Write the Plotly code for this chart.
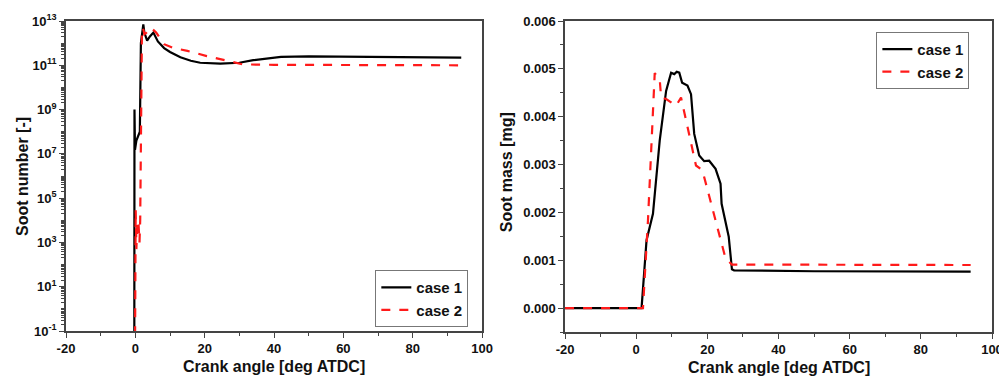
import plotly.graph_objects as go

# ---- Left panel: soot number (log scale) ----
num_c1_x = [-0.3, -0.25, -0.1, 0.3, 0.8, 1.3, 1.6, 2.0, 2.3, 2.6, 3.4, 4.2, 5.2, 6.5, 8.3, 10, 13, 16, 18.7,
            24.5, 30, 34, 38, 42, 50, 61, 80, 94]
num_c1_y = [1e-2, 1e9, 1.5e7, 4e7, 6e7, 1e8, 1e12, 5e12, 7e12, 3e12, 1.3e12, 2e12, 3e12, 1.2e12, 6e11, 4e11,
            2.3e11, 1.6e11, 1.3e11, 1.2e11, 1.3e11, 1.7e11, 2.1e11, 2.4e11, 2.5e11, 2.4e11, 2.3e11, 2.2e11]

num_c2_x = [-0.1, -0.05, 0.0, 0.1, 0.3, 0.6, 0.9, 1.2, 1.4, 1.6, 1.9, 2.2, 2.6, 3.2, 4.5, 6, 8.3, 11, 15,
            20.6, 26.4, 31, 40, 60, 94]
num_c2_y = [1e-2, 1e2, 1e3, 3e4, 5e2, 1e4, 8e3, 1e3, 1e4, 1e9, 3e12, 5e12, 2.5e12, 3e12, 5e12, 3e12, 9e11,
            6e11, 4.5e11, 2.6e11, 1.6e11, 1.1e11, 1.05e11, 1.05e11, 1e11]

# ---- Right panel: soot mass [mg] ----
mass_c1_x = [-20, 1.5, 2.9, 4.7, 6.6, 8.4, 9.8, 10.7, 11.4, 12.1, 12.9, 14.4, 15.4, 16.3, 17.7, 19.1, 20.5,
             22.3, 23.7, 24.0, 26.0, 26.9, 27.5, 50, 94]
mass_c1_y = [0.0, 0.0, 0.00142, 0.00197, 0.0035, 0.00454, 0.00492, 0.00489, 0.00494, 0.00492, 0.00471,
             0.00465, 0.00447, 0.00364, 0.00319, 0.00307, 0.00308, 0.00291, 0.0026, 0.00218, 0.00149,
             0.00081, 0.00079, 0.00077, 0.00076]

mass_c2_x = [-20, 1.9, 3.3, 4.7, 5.2, 6.6, 7.0, 8.4, 11.2, 12.6, 14.9, 16.8, 18.6, 25.1, 26.9, 94]
mass_c2_y = [0.0, 0.0, 0.00183, 0.00419, 0.00491, 0.00478, 0.0044, 0.00437, 0.00423, 0.0044, 0.00364,
             0.00298, 0.00288, 0.00104, 0.00091, 0.0009]

series_names = ["case 1", "case 2"]
x_tickvals = [-20, 0, 20, 40, 60, 80, 100]
x_ticktext = ["-20", "0", "20", "40", "60", "80", "100"]
log_tickvals = [1e-1, 1e1, 1e3, 1e5, 1e7, 1e9, 1e11, 1e13]
log_ticktext = ["10<sup>-1</sup>", "10<sup>1</sup>", "10<sup>3</sup>", "10<sup>5</sup>",
                "10<sup>7</sup>", "10<sup>9</sup>", "10<sup>11</sup>", "10<sup>13</sup>"]
x_title = "Crank angle [deg ATDC]"
left_y_title = "Soot number [-]"
right_y_title = "Soot mass [mg]"

FONT = "Liberation Sans, Arial, sans-serif"
AX = "#444444"
TXT = "#111111"

fig = go.Figure()
fig.add_trace(go.Scatter(x=num_c1_x, y=num_c1_y, mode="lines", name="<b>%s</b>" % series_names[0],
                         line=dict(color="black", width=2.2), xaxis="x", yaxis="y", legend="legend"))
fig.add_trace(go.Scatter(x=num_c2_x, y=num_c2_y, mode="lines", name="<b>%s</b>" % series_names[1],
                         line=dict(color="#ff1a1a", width=2.2, dash="dash"), xaxis="x", yaxis="y", legend="legend"))
fig.add_trace(go.Scatter(x=mass_c1_x, y=mass_c1_y, mode="lines", name="<b>%s</b>" % series_names[0],
                         line=dict(color="black", width=2.2), xaxis="x2", yaxis="y2", legend="legend2"))
fig.add_trace(go.Scatter(x=mass_c2_x, y=mass_c2_y, mode="lines", name="<b>%s</b>" % series_names[1],
                         line=dict(color="#ff1a1a", width=2.2, dash="dash"), xaxis="x2", yaxis="y2", legend="legend2"))

# the page body has an 8px default margin, so the figure is drawn 8px in from the window corner
OFF = 8
W, H = 1007 - OFF, 380 - OFF
ml, mr, mt, mb = 66 - OFF, 4, 20 - OFF, 48
pw = W - ml - mr
ph = H - mt - mb

def py(p):
    """window pixel row -> paper y"""
    return (H - mb - (p - OFF)) / ph

def px(p):
    """window pixel column -> paper x"""
    return ((p - OFF) - ml) / pw

tickfont = dict(family=FONT, size=13, color=TXT, weight="bold")

common_x = dict(range=[-20, 100], tickmode="array", tickvals=x_tickvals, ticktext=x_ticktext,
                showline=True, linecolor=AX, linewidth=1.5,
                mirror=True, ticks="outside", ticklen=5, tickwidth=1.2, tickcolor=AX,
                minor=dict(tickmode="linear", tick0=-20, dtick=10, ticks="outside", ticklen=3, tickcolor=AX),
                showgrid=False, zeroline=False, tickfont=tickfont)

minor_log = []
for k in range(-1, 13):
    for m in range(1, 10):
        minor_log.append(m * 10.0 ** k)

layout = dict(
    width=W, height=H, margin=dict(l=ml, r=mr, t=mt, b=mb),
    paper_bgcolor="white", plot_bgcolor="white",
    font=dict(family=FONT, color=TXT),
    xaxis=dict(common_x, domain=[0, px(487)], anchor="y"),
    xaxis2=dict(common_x, domain=[px(571), 1.0], anchor="y2"),
    yaxis=dict(type="log", range=[-1, 13], tickmode="array",
               tickvals=log_tickvals, ticktext=log_ticktext,
               domain=[py(331), 1.0], anchor="x",
               showline=True, linecolor=AX, linewidth=1.5, mirror=True,
               ticks="outside", ticklen=5, tickwidth=1.2, tickcolor=AX,
               minor=dict(tickmode="array", tickvals=minor_log, ticks="outside", ticklen=3, tickcolor=AX),
               showgrid=False, zeroline=False, tickfont=tickfont),
    yaxis2=dict(range=[-0.0005, 0.006], dtick=0.001, tick0=0, tickformat=".3f",
                domain=[0, 1.0], anchor="x2",
                showline=True, linecolor=AX, linewidth=1.5, mirror=True,
                ticks="outside", ticklen=5, tickwidth=1.2, tickcolor=AX,
                minor=dict(dtick=0.0005, ticks="outside", ticklen=3, tickcolor=AX),
                showgrid=False, zeroline=False, tickfont=tickfont),
    legend=dict(x=px(379), y=py(270), xanchor="left", yanchor="top",
                bgcolor="white", bordercolor="#777", borderwidth=1,
                font=dict(family=FONT, size=15, color=TXT),
                tracegroupgap=0, traceorder="normal"),
    legend2=dict(x=px(886), y=py(31), xanchor="left", yanchor="top",
                 bgcolor="white", bordercolor="#777", borderwidth=1,
                 font=dict(family=FONT, size=15, color=TXT),
                 tracegroupgap=0, traceorder="normal"),
    showlegend=True,
    annotations=[
        dict(text="<b>%s</b>" % x_title, xref="paper", yref="paper", x=(px(66) + px(487)) / 2, y=py(367),
             xanchor="center", yanchor="middle", showarrow=False, font=dict(family=FONT, size=16, color=TXT)),
        dict(text="<b>%s</b>" % x_title, xref="paper", yref="paper", x=(px(571) + px(1003)) / 2, y=py(368),
             xanchor="center", yanchor="middle", showarrow=False, font=dict(family=FONT, size=16, color=TXT)),
        dict(text="<b>%s</b>" % left_y_title, xref="paper", yref="paper", x=px(22), y=py(176),
             xanchor="center", yanchor="middle", showarrow=False, textangle=-90,
             font=dict(family=FONT, size=16, color=TXT)),
        dict(text="<b>%s</b>" % right_y_title, xref="paper", yref="paper", x=px(512), y=py(172),
             xanchor="center", yanchor="middle", showarrow=False, textangle=-90,
             font=dict(family=FONT, size=16, color=TXT)),
    ],
)
fig.update_layout(**layout)

fig.write_html("out.html")
